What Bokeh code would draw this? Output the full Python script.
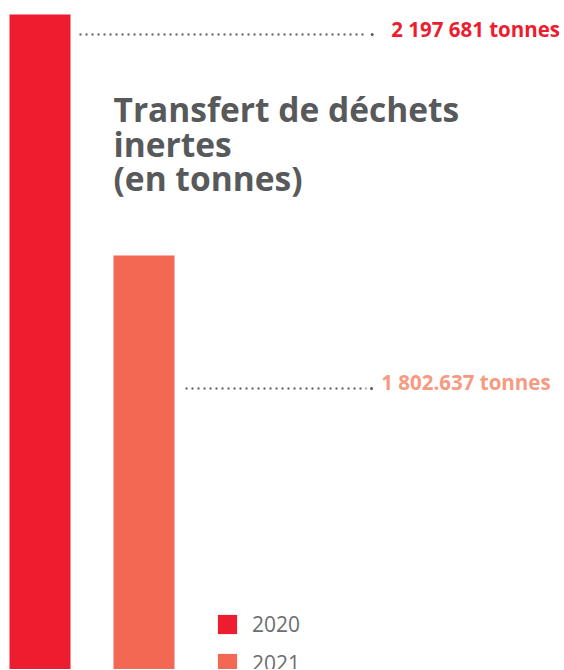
from bokeh.plotting import figure
from bokeh.models import Range1d, Legend, LegendItem
from bokeh.core.properties import value
from bokeh.embed import file_html
from bokeh.resources import INLINE

# ---- data ----
years = ["2020", "2021"]
tonnes = [2197681, 1802637]
value_labels = ["2 197 681 tonnes", "1 802.637 tonnes"]
bar_colors = ["#ED1C2E", "#F26852"]
label_colors = ["#ED1C2E", "#F69A82"]
title_lines = ["Transfert de déchets", "inertes", "(en tonnes)"]

# ---- geometry (pixels inside the figure) ----
W, H = 563, 669
px_per_unit = 241 / (tonnes[0] - tonnes[1])
y_top = tonnes[0] + 14 / px_per_unit
y_bot = tonnes[0] - 655 / px_per_unit
bar_pitch = 104.0
x0_px = 39.5

p = figure(width=W, height=H, output_backend="svg", toolbar_location=None,
           x_range=Range1d(-x0_px / bar_pitch, (W - x0_px) / bar_pitch),
           y_range=Range1d(y_bot, y_top), min_border=0)
p.axis.visible = False
p.grid.visible = False
p.outline_line_color = None
p.background_fill_color = "white"
p.border_fill_color = "white"
p.extra_x_ranges = {"px": Range1d(0, W)}
p.extra_y_ranges = {"px": Range1d(H, 0)}

bars = p.vbar(x=list(range(len(years))), top=tonnes, width=61 / bar_pitch,
              fill_color=bar_colors, line_color=None)

# leader dots
dot_x0 = [79, 185]
dot_x1 = [364, 366]
dot_end = [371.7, 371]
dot_y = [34, 388]
p.segment(x0=dot_x0, y0=dot_y, x1=dot_x1, y1=dot_y, x_range_name="px", y_range_name="px",
          line_color="#58595B", line_width=2, line_dash="2 4")
p.scatter(x=dot_end, y=dot_y, size=3, x_range_name="px", y_range_name="px",
          fill_color="#58595B", line_color=None)

# value labels
p.text(x=[390.7, 380.7], y=[28, 381.5], text=value_labels, text_color=label_colors,
       x_range_name="px", y_range_name="px", text_font=value("Open Sans"),
       text_font_style="bold", text_font_size="20.5px", text_baseline="alphabetic")

# title
p.text(x=[113] * 3, y=[108, 143, 177], text=title_lines, text_color="#58595B",
       x_range_name="px", y_range_name="px", text_font=value("Open Sans"),
       text_font_style="bold", text_font_size="33.5px", text_baseline="alphabetic")

legend = Legend(items=[LegendItem(label=years[i], renderers=[bars], index=i) for i in range(len(years))],
                location=(215, -8), orientation="vertical",
                glyph_width=24, glyph_height=24, label_height=24, spacing=11,
                label_standoff=13, padding=0, margin=0,
                border_line_color=None, background_fill_alpha=0,
                label_text_font="Open Sans", label_text_font_size="21px",
                label_text_color="#6D6E71")
p.add_layout(legend)

open("out.html", "w").write(file_html(p, INLINE))
